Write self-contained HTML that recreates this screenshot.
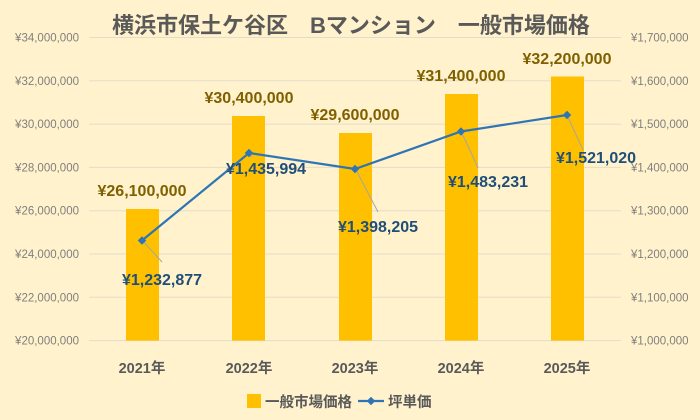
<!DOCTYPE html>
<html><head><meta charset="utf-8"><style>
body{margin:0;background:#fff2cc;}
svg{display:block;font-family:"Liberation Sans","Noto Sans CJK JP",sans-serif;}
</style></head><body>
<svg width="700" height="420" viewBox="0 0 700 420">
<rect width="700" height="420" fill="#fff2cc"/>
<g stroke="#e2dccb" stroke-width="1">
<line x1="89" x2="621" y1="37.5" y2="37.5"/><line x1="89" x2="621" y1="80.8" y2="80.8"/>
<line x1="89" x2="621" y1="124.1" y2="124.1"/><line x1="89" x2="621" y1="167.4" y2="167.4"/>
<line x1="89" x2="621" y1="210.7" y2="210.7"/><line x1="89" x2="621" y1="254" y2="254"/>
<line x1="89" x2="621" y1="297.3" y2="297.3"/><line x1="89" x2="621" y1="340.6" y2="340.6"/>
</g>
<g font-size="11.5" fill="#7f7f7f" text-anchor="end">
<text x="79" y="41.5">¥34,000,000</text><text x="79" y="84.8">¥32,000,000</text>
<text x="79" y="128.1">¥30,000,000</text><text x="79" y="171.4">¥28,000,000</text>
<text x="79" y="214.7">¥26,000,000</text><text x="79" y="258">¥24,000,000</text>
<text x="79" y="301.3">¥22,000,000</text><text x="79" y="344.6">¥20,000,000</text>
</g>
<g font-size="11.5" fill="#7f7f7f">
<text x="631" y="41.5">¥1,700,000</text><text x="631" y="84.8">¥1,600,000</text>
<text x="631" y="128.1">¥1,500,000</text><text x="631" y="171.4">¥1,400,000</text>
<text x="631" y="214.7">¥1,300,000</text><text x="631" y="258">¥1,200,000</text>
<text x="631" y="301.3">¥1,100,000</text><text x="631" y="344.6">¥1,000,000</text>
</g>
<g fill="#ffc000">
<rect x="126" y="209" width="33" height="131.6"/>
<rect x="232" y="116" width="33" height="224.6"/>
<rect x="339" y="133" width="33" height="207.6"/>
<rect x="445" y="94" width="33" height="246.6"/>
<rect x="551" y="76.5" width="33" height="264.1"/>
</g>
<g font-size="16" font-weight="bold" fill="#7f6000" text-anchor="middle">
<text x="142" y="196">¥26,100,000</text><text x="249" y="103">¥30,400,000</text>
<text x="355" y="120">¥29,600,000</text><text x="461" y="81">¥31,400,000</text>
<text x="567" y="64">¥32,200,000</text>
</g>
<g stroke="#a6a6a6" stroke-width="1">
<line x1="142" y1="240" x2="162" y2="262"/>
<line x1="249" y1="153" x2="252" y2="157"/>
<line x1="355" y1="168" x2="378" y2="212"/>
<line x1="461" y1="131" x2="478" y2="168"/>
<line x1="567" y1="115" x2="583" y2="150"/>
</g>
<polyline points="142,240.5 249,153 355,169 461,131.5 567,115" fill="none" stroke="#2e75b6" stroke-width="2.2"/>
<g fill="#2e75b6">
<rect x="139" y="237.5" width="6" height="6" transform="rotate(45 142 240.5)"/>
<rect x="246" y="150" width="6" height="6" transform="rotate(45 249 153)"/>
<rect x="352" y="166" width="6" height="6" transform="rotate(45 355 169)"/>
<rect x="458" y="128.5" width="6" height="6" transform="rotate(45 461 131.5)"/>
<rect x="564" y="112" width="6" height="6" transform="rotate(45 567 115)"/>
</g>
<g font-size="16" font-weight="bold" fill="#1f4e79" text-anchor="middle">
<text x="162" y="285">¥1,232,877</text><text x="266" y="174">¥1,435,994</text>
<text x="378" y="232">¥1,398,205</text><text x="488" y="187">¥1,483,231</text>
<text x="596" y="163">¥1,521,020</text>
</g>
<g font-size="14.5" font-weight="bold" fill="#595959" text-anchor="middle">
<text x="142" y="373">2021年</text><text x="249" y="373">2022年</text>
<text x="355" y="373">2023年</text><text x="461" y="373">2024年</text>
<text x="567" y="373">2025年</text>
</g>
<text x="351" y="33" font-size="22" font-weight="bold" fill="#595959" text-anchor="middle">横浜市保土ケ谷区　Bマンション　一般市場価格</text>
<rect x="247" y="394" width="14" height="14" fill="#ffc000"/>
<text x="265" y="407" font-size="14.5" font-weight="bold" fill="#595959">一般市場価格</text>
<line x1="358" y1="401" x2="384" y2="401" stroke="#2e75b6" stroke-width="2.2"/>
<rect x="368" y="398" width="6" height="6" fill="#2e75b6" transform="rotate(45 371 401)"/>
<text x="388" y="407" font-size="14.5" font-weight="bold" fill="#595959">坪単価</text>
</svg>
</body></html>
